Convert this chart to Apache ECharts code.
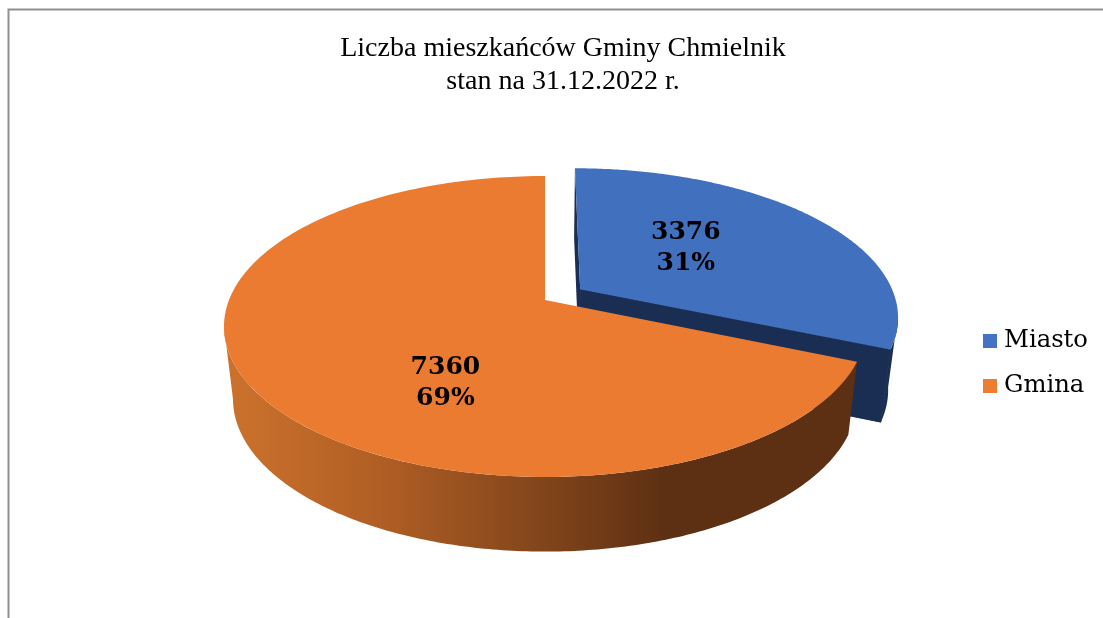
<!DOCTYPE html>
<html>
<head>
<meta charset="utf-8">
<style>
html, body { margin: 0; padding: 0; background: #fff; }
#main { width: 1103px; height: 618px; }
</style>
<script src="https://cdn.jsdelivr.net/npm/echarts@6/dist/echarts.min.js"></script>
</head>
<body>
<div id="main"></div>
<script>
var categories = ['Miasto', 'Gmina'];
var values = [3376, 7360];

// geometry of the tilted disc (ECharts has no 3D pie)
var CX = 545, CY = 300;      // where the disc centre lands on screen
var RX = 316, RY = 145.8;
var PERSPECTIVE = 0.176;     // far edge of the disc is drawn smaller
var DEPTH = 72;              // wall height
var BOTTOM_SCALE_X = 0.972, BOTTOM_SCALE_Y = 1.015;
var EXPLODE = [0.135, 0];

var topColors = ['#4170BF', '#EA7B30'];
var legendColors = ['#4472C4', '#ED7D31'];
var faceColors = ['#1A2D52', '#5E3013'];
var labelOffsets = [[-17, -4], [39, 41]];

var total = values.reduce(function (a, b) { return a + b; }, 0);

function sliceAngles(index) {
    var before = 0;
    for (var i = 0; i < index; i++) before += values[i];
    return [before / total * Math.PI * 2, (before + values[index]) / total * Math.PI * 2];
}

function project(u, v, bottom) {
    var w = 1 + PERSPECTIVE * v;
    var sx = bottom ? BOTTOM_SCALE_X : 1;
    var sy = bottom ? BOTTOM_SCALE_Y : 1;
    return [CX + sx * RX * u / w, CY + (bottom ? DEPTH : 0) - sy * RY * v / w];
}

function arcPoints(from, to, ox, oy, bottom) {
    var steps = 200, pts = [];
    for (var i = 0; i <= steps; i++) {
        var t = from + (to - from) * i / steps;
        pts.push(project(ox + Math.sin(t), oy + Math.cos(t), bottom));
    }
    return pts;
}

function wallFill(index) {
    if (index === 0) return faceColors[0];
    return new echarts.graphic.LinearGradient(224, 0, 850, 0, [
        { offset: 0, color: '#CC722C' },
        { offset: 0.24, color: '#B25F25' },
        { offset: 0.5, color: '#83461B' },
        { offset: 0.7, color: '#5E3013' },
        { offset: 1, color: '#5E3013' }
    ], true);
}

function renderSlice(index) {
    var a = sliceAngles(index);
    var mid = (a[0] + a[1]) / 2;
    var ox = EXPLODE[index] * Math.sin(mid);
    var oy = EXPLODE[index] * Math.cos(mid);
    var topArc = arcPoints(a[0], a[1], ox, oy, false);
    var apex = project(ox, oy, false);
    var apexLow = project(ox, oy, true);
    var labelAt = project(ox + 0.5 * Math.sin(mid), oy + 0.5 * Math.cos(mid), false);
    var percent = Math.round(values[index] / total * 100);

    // only the part of the rim facing the viewer has a wall, between the silhouette tangents
    var tangent = Math.acos(-PERSPECTIVE);
    var wallFrom = Math.max(a[0], tangent);
    var wallTo = Math.min(a[1], Math.PI * 2 - tangent);
    var wallTop = arcPoints(wallFrom, wallTo, ox, oy, false);
    var wallBottom = arcPoints(wallFrom, wallTo, ox, oy, true);
    var firstLow = project(ox + Math.sin(a[0]), oy + Math.cos(a[0]), true);
    var lastLow = project(ox + Math.sin(a[1]), oy + Math.cos(a[1]), true);

    var children = [];
    // cut faces: the Gmina ones sit behind its own top, only Miasto shows them
    if (index === 0) {
        children.push({
            type: 'polygon',
            shape: { points: [apex, topArc[0], firstLow, apexLow] },
            style: { fill: faceColors[index] }
        });
        children.push({
            type: 'polygon',
            shape: { points: [apex, topArc[topArc.length - 1], lastLow, apexLow] },
            style: { fill: faceColors[index], stroke: faceColors[index], lineWidth: 1 }
        });
    }
    children.push({ // outer wall
        type: 'polygon',
        shape: { points: wallTop.concat(wallBottom.slice().reverse()) },
        style: { fill: wallFill(index) }
    });
    children.push({ // top
        type: 'polygon',
        shape: { points: [apex].concat(topArc) },
        style: { fill: topColors[index] }
    });
    children.push({
        type: 'text',
        x: labelAt[0] + labelOffsets[index][0],
        y: labelAt[1] + labelOffsets[index][1],
        style: {
            text: values[index] + '\n' + percent + '%',
            fill: '#000',
            font: 'bold 25px "DejaVu Serif"',
            lineHeight: 31.5,
            align: 'center',
            verticalAlign: 'middle'
        }
    });

    return { type: 'group', children: children };
}

var option = {
    animation: false,
    color: legendColors,
    title: {
        text: 'Liczba mieszkańców Gminy Chmielnik\nstan na 31.12.2022 r.',
        left: 558,
        top: 27,
        textAlign: 'center',
        textStyle: {
            fontFamily: 'Liberation Serif',
            fontWeight: 'normal',
            fontSize: 28,
            lineHeight: 33,
            color: '#000'
        }
    },
    legend: {
        orient: 'vertical',
        left: 983,
        top: 325,
        padding: 0,
        icon: 'rect',
        itemWidth: 14,
        itemHeight: 14,
        itemGap: 13,
        selectedMode: false,
        data: categories,
        textStyle: {
            fontFamily: 'DejaVu Serif',
            fontSize: 24.3,
            lineHeight: 28,
            padding: [4, 0, 0, 2],
            color: '#000'
        }
    },
    graphic: [
        {
            type: 'polyline',
            silent: true,
            shape: { points: [[8.5, 618], [8.5, 9.5], [1103, 9.5]] },
            style: { fill: null, stroke: '#8f8f8f', lineWidth: 2 }
        }
    ],
    series: categories.map(function (name, index) {
        return {
            name: name,
            type: 'custom',
            coordinateSystem: 'none',
            silent: true,
            data: [values[index]],
            renderItem: function () { return renderSlice(index); }
        };
    })
};

var myChart = echarts.init(document.getElementById('main'));
myChart.setOption(option);
</script>
</body>
</html>
